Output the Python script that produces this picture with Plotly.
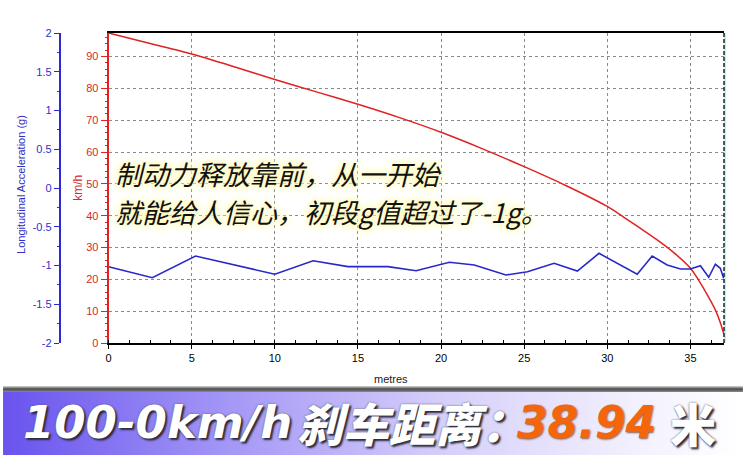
import base64
import plotly.graph_objects as go

# ---------------- data ----------------
speed_dist = [0, 2.5, 5, 7.5, 10, 12.5, 15, 17.5, 20, 22.5, 25, 27.5, 30,
              31, 32, 33, 34, 35, 35.5, 36, 36.5, 36.8, 37.0]
speed_kmh = [97.4, 94.1, 90.8, 86.9, 82.8, 78.9, 75.0, 70.8, 66.2, 61.0, 55.4, 49.5, 42.9,
             39.5, 36.0, 32.4, 28.4, 23.5, 19.7, 15.3, 10.4, 6.4, 3.0]

acc_dist = [0, 2.63, 5.23, 8.4, 10.0, 12.3, 14.4, 16.8, 18.5, 20.5, 22.0, 23.9, 25.2, 26.8,
            28.2, 29.5, 31.8, 32.7, 33.6, 34.4, 35.0, 35.6, 36.1, 36.5, 36.8, 37.0]
acc_g = [-1.015, -1.157, -0.877, -1.036, -1.113, -0.938, -1.015, -1.015, -1.067, -0.959, -0.994,
         -1.123, -1.08, -0.972, -1.071, -0.843, -1.113, -0.877, -0.994, -1.045, -1.045, -1.003,
         -1.152, -0.984, -1.036, -1.165]

x_ticks = [0, 5, 10, 15, 20, 25, 30, 35]
speed_ticks = [0, 10, 20, 30, 40, 50, 60, 70, 80, 90]
acc_ticks = [-2, -1.5, -1, -0.5, 0, 0.5, 1, 1.5, 2]
acc_tick_text = ["-2", "-1.5", "-1", "-0.5", "0", "0.5", "1", "1.5", "2"]

x_title = "metres"
speed_title = "km/h"
acc_title = "Longitudinal Acceleration (g)"
note_line1 = "制动力释放靠前，从一开始"
note_line2 = "就能给人信心，初段g值超过了-1g。"
banner_parts = ["100-0km/h", "刹车距离：", "38.94", "米"]

# ---------------- geometry helpers ----------------
W, H = 743, 460
ML, MR, MT, MB = 10, 19, 33, 117
PW, PH = W - ML - MR, H - MT - MB


def px(x):
    return (x - ML) / PW


def py(y):
    return (H - MB - y) / PH


fig = go.Figure()
fig.add_trace(go.Scatter(x=speed_dist, y=speed_kmh, mode="lines",
                         line=dict(color="#e02222", width=1.5, shape="spline", smoothing=0.8),
                         yaxis="y", hoverinfo="skip"))
fig.add_trace(go.Scatter(x=acc_dist, y=acc_g, mode="lines",
                         line=dict(color="#2828c8", width=1.6), yaxis="y2", hoverinfo="skip"))

tick_font = dict(family="Liberation Sans, Arial, sans-serif", size=11)

fig.update_layout(
    width=W, height=H,
    margin=dict(l=ML, r=MR, t=MT, b=MB),
    paper_bgcolor="white", plot_bgcolor="white",
    showlegend=False,
    xaxis=dict(
        domain=[px(106), 1], range=[0, 37.02], tickvals=x_ticks,
        showline=True, linecolor="black", linewidth=2, mirror=True,
        ticks="outside", ticklen=4, tickcolor="black",
        tickfont=dict(color="black", **tick_font),
        showgrid=True, gridcolor="#8a8a8a", gridwidth=1, griddash="3px,3px",
        zeroline=False,
        minor=dict(dtick=1.25, ticks="inside", ticklen=3, tickcolor="black", showgrid=False),
    ),
    yaxis=dict(
        range=[0, 97.4], tickvals=speed_ticks, side="left", anchor="x",
        showline=True, linecolor="#e02222", linewidth=2,
        ticks="outside", ticklen=6, tickcolor="#e02222",
        tickfont=dict(color="#d42a2a", **tick_font),
        showgrid=True, gridcolor="#8a8a8a", gridwidth=1, griddash="3px,3px",
        zeroline=False,
        minor=dict(dtick=2, ticks="outside", ticklen=2, tickcolor="#e02222", showgrid=False),
    ),
    yaxis2=dict(
        range=[-2, 2], tickvals=acc_ticks, ticktext=acc_tick_text,
        overlaying="y", anchor="free", position=px(57), side="left",
        showline=True, linecolor="#2a2ad0", linewidth=2,
        ticks="outside", ticklen=5, tickcolor="#2a2ad0",
        tickfont=dict(color="#3030c8", **tick_font),
        showgrid=False, zeroline=False,
        minor=dict(dtick=0.25, ticks="outside", ticklen=2, tickcolor="#2a2ad0", showgrid=False),
    ),
)

# right dashed border
fig.add_shape(type="line", xref="paper", yref="paper", x0=1.0015, x1=1.0015, y0=0, y1=1,
              line=dict(color="#bfeff2", width=2))
fig.add_shape(type="line", xref="paper", yref="paper", x0=1, x1=1, y0=0, y1=1,
              line=dict(color="#222222", width=1.5, dash="4px,2px"))

annots = []
# axis titles
annots.append(dict(text=acc_title, xref="paper", yref="paper", x=px(18), y=py(184),
                   xanchor="center", yanchor="middle",
                   showarrow=False, textangle=-90,
                   font=dict(family="Liberation Sans, Arial", size=11, color="#2e2ec8")))
annots.append(dict(text=speed_title, xref="paper", yref="paper", x=px(75), y=py(188),
                   xanchor="center", yanchor="middle",
                   showarrow=False, textangle=-90,
                   font=dict(family="Liberation Sans, Arial", size=12, color="#d42a2a")))
annots.append(dict(text=x_title, xref="paper", yref="paper", x=px(390), y=py(379),
                   xanchor="center", yanchor="middle", showarrow=False,
                   font=dict(family="Liberation Sans, Arial", size=11, color="#222222")))

# note text with yellow glow
glow = "0 0 3px #fffbc8, 0 0 6px #fff8b0, 0 0 9px #fff6a8, 0 0 12px #fffbd0"
note_font = dict(family="Noto Sans CJK SC", size=27, color="#111111", style="italic", shadow=glow)
annots.append(dict(text=note_line1, xref="paper", yref="paper", x=px(110), y=py(173),
                   xanchor="left", yanchor="middle", showarrow=False, font=note_font))
annots.append(dict(text=note_line2, xref="paper", yref="paper", x=px(110), y=py(211),
                   xanchor="left", yanchor="middle", showarrow=False, font=note_font))

# banner text
shadow_dark = "2px 2px 2px #2a2a3a, 0 0 2px #555566"
bc = py(422)
annots.append(dict(text=banner_parts[0], xref="paper", yref="paper", x=px(18), y=bc,
                   xanchor="left", yanchor="middle", showarrow=False,
                   font=dict(family="DejaVu Sans", size=45, color="white", weight="bold",
                             style="italic", shadow=shadow_dark)))
annots.append(dict(text=banner_parts[1], xref="paper", yref="paper", x=px(293), y=bc,
                   xanchor="left", yanchor="middle", showarrow=False,
                   font=dict(family="Noto Sans CJK SC", size=46, color="white", weight=900,
                             style="italic", shadow=shadow_dark)))
annots.append(dict(text=banner_parts[2], xref="paper", yref="paper", x=px(514), y=bc,
                   xanchor="left", yanchor="middle", showarrow=False,
                   font=dict(family="DejaVu Sans", size=44, color="#f5650c", weight="bold",
                             style="italic", shadow="1px 1px 2px #8a5a40")))
annots.append(dict(text=banner_parts[3], xref="paper", yref="paper", x=px(668), y=bc,
                   xanchor="left", yanchor="middle", showarrow=False,
                   font=dict(family="Noto Sans CJK SC", size=46, color="white", weight=900,
                             shadow=shadow_dark)))
fig.update_layout(annotations=annots)

# banner background (gradient image)
svg = (
    "<svg xmlns='http://www.w3.org/2000/svg' width='743' height='74' viewBox='0 0 743 74' "
    "preserveAspectRatio='none'>"
    "<defs>"
    "<linearGradient id='g' x1='0' x2='1' y1='0' y2='0'>"
    "<stop offset='0' stop-color='#6953ee'/>"
    "<stop offset='0.3' stop-color='#a396f6'/>"
    "<stop offset='0.6' stop-color='#d6d0fa'/>"
    "<stop offset='0.85' stop-color='#f2f0fe'/>"
    "<stop offset='1' stop-color='#ffffff'/>"
    "</linearGradient>"
    "<linearGradient id='s' x1='0' x2='0' y1='0' y2='1'>"
    "<stop offset='0' stop-color='#d8d8d8'/>"
    "<stop offset='0.5' stop-color='#4a4a4a'/>"
    "<stop offset='1' stop-color='#8a8a8a'/>"
    "</linearGradient>"
    "</defs>"
    "<rect x='0' y='0' width='743' height='6' fill='url(#s)'/>"
    "<rect x='0' y='6' width='743' height='63' fill='url(#g)'/>"
    "</svg>"
)
src = "data:image/svg+xml;base64," + base64.b64encode(svg.encode()).decode()
fig.add_layout_image(dict(source=src, xref="paper", yref="paper", x=px(0), y=py(386),
                          sizex=W / PW, sizey=74 / PH, xanchor="left", yanchor="top",
                          sizing="stretch", layer="below"))

fig.write_html("out.html", config={"displayModeBar": False},
               post_script="document.body.style.margin='0';document.body.style.overflow='hidden';")
